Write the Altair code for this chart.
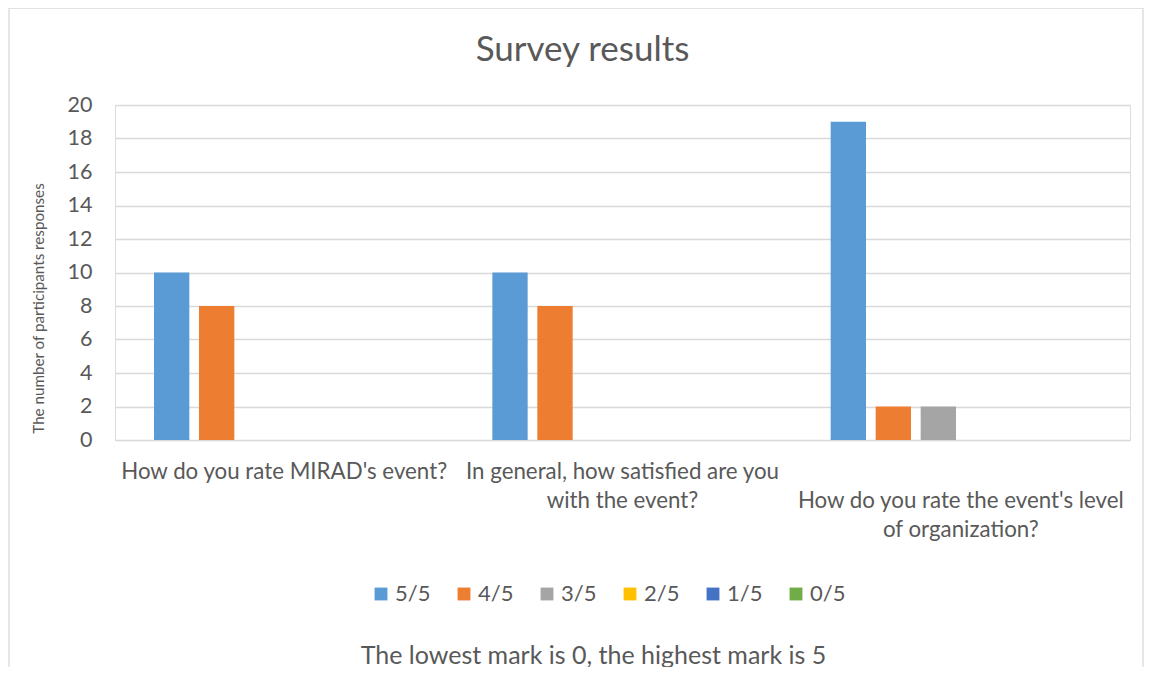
import json
import altair as alt
import pandas as pd

categories = [
    "How do you rate MIRAD's event?",
    "In general, how satisfied are you with the event?",
    "How do you rate the event's level of organization?",
]
label_lines = [
    ["How do you rate MIRAD's event?"],
    ["In general, how satisfied are you", "with the event?"],
    ["", "How do you rate the event's level", "of organization?"],
]
series = ["5/5", "4/5", "3/5", "2/5", "1/5", "0/5"]
colors = ["#5B9BD5", "#ED7D31", "#A5A5A5", "#FFC000", "#4472C4", "#70AD47"]
values = {
    "5/5": [10, 10, 19],
    "4/5": [8, 8, 2],
    "3/5": [0, 0, 2],
    "2/5": [0, 0, 0],
    "1/5": [0, 0, 0],
    "0/5": [0, 0, 0],
}
y_ticks = [0, 2, 4, 6, 8, 10, 12, 14, 16, 18, 20]

rows = []
for s in series:
    for c, v in zip(categories, values[s]):
        rows.append({"question": c, "rating": s, "count": v})
df = pd.DataFrame(rows)

FONT = "Lato"
TXT = "#595959"
GRID = "#D9D9D9"

label_map = json.dumps(dict(zip(categories, label_lines)))

bars = alt.Chart(df).mark_bar().encode(
    x=alt.X(
        "question:N",
        sort=categories,
        scale=alt.Scale(paddingInner=0, paddingOuter=0),
        axis=alt.Axis(
            title="The lowest mark is 0, the highest mark is 5",
            titleFontSize=25,
            titleFont=FONT,
            titleFontWeight="normal",
            titleColor=TXT,
            titleX=478,
            titleY=215,
            titleBaseline="middle",
            titleAlign="center",
            labelExpr=label_map + "[datum.value]",
            labelAngle=0,
            labelFont=FONT,
            labelFontSize=22.3,
            labelColor=TXT,
            labelLineHeight=29,
            labelPadding=31,
            labelLimit=400,
            labelOverlap=False,
            labelBaseline="middle",
            domain=False,
            ticks=False,
            grid=False,
        ),
    ),
    xOffset=alt.XOffset(
        "rating:N",
        sort=series,
        scale=alt.Scale(paddingInner=0.215, paddingOuter=0.867),
    ),
    y=alt.Y(
        "count:Q",
        scale=alt.Scale(domain=[0, 20], nice=False),
        axis=alt.Axis(
            values=y_ticks,
            title="The number of participants responses",
            titleFont=FONT,
            titleFontSize=15.2,
            titleFontWeight="normal",
            titleColor=TXT,
            titleX=-77,
            titleY=203,
            titleAngle=-90,
            titleBaseline="middle",
            titleAlign="center",
            labelFont=FONT,
            labelFontSize=21.5,
            labelColor=TXT,
            labelPadding=23,
            domain=False,
            ticks=False,
            grid=True,
            gridColor=GRID,
            gridWidth=1.3,
        ),
    ),
    color=alt.Color(
        "rating:N",
        sort=series,
        scale=alt.Scale(domain=series, range=colors),
        legend=alt.Legend(
            title=None,
            orient="none",
            legendX=255,
            legendY=478,
            direction="horizontal",
            columns=6,
            columnPadding=22,
            symbolType="square",
            symbolSize=165,
            symbolStrokeWidth=0,
            symbolOpacity=1,
            labelFont=FONT,
            labelFontSize=22,
            labelColor=TXT,
            labelOffset=3,
            padding=0,
        ),
    ),
)

border = alt.Chart(alt.Data(values=[{"b": 1}])).mark_rect(
    fillOpacity=0, stroke=GRID, strokeWidth=1.3
).encode(
    x=alt.value(-106),
    x2=alt.value(1028),
    y=alt.value(-97),
    y2=alt.value(620),
)

chart = alt.layer(border, bars).properties(
    width=1015,
    height=335,
    autosize=alt.AutoSizeParams(type="none"),
    padding={"left": 107, "top": 97, "right": 14, "bottom": 227},
    title=alt.Title(
        "Survey results",
        font=FONT,
        fontSize=35,
        fontWeight="normal",
        color=TXT,
        anchor="middle",
        frame="group",
        dx=-40,
        offset=-61,
        baseline="top",
    ),
).configure_view(stroke=None).configure(background="white")

chart.save("out.html", embed_options={"renderer": "svg", "actions": False})
